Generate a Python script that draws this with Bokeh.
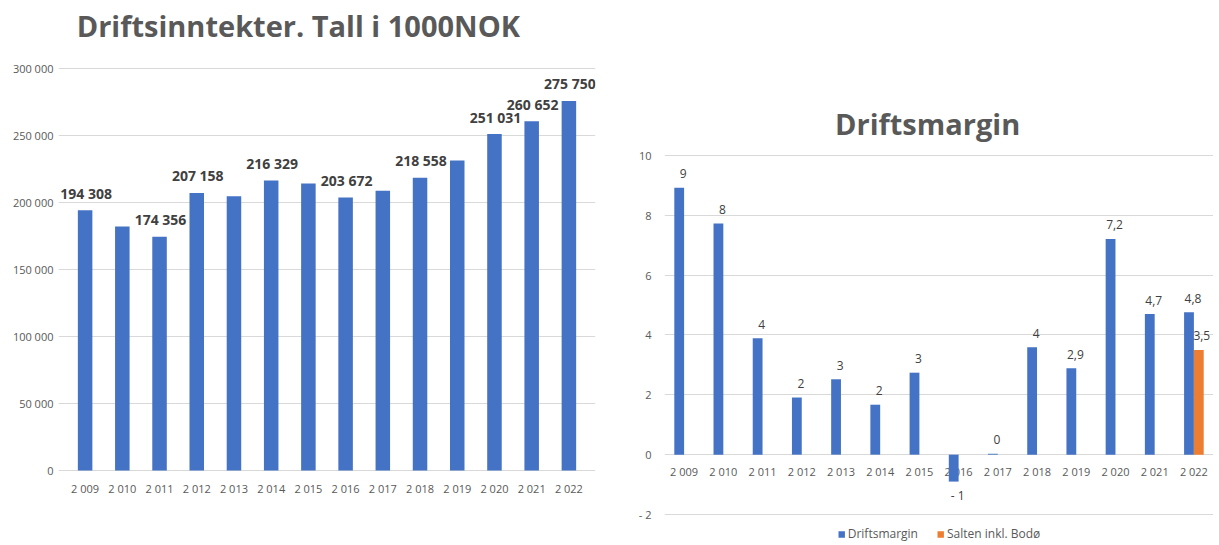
from bokeh.plotting import figure
from bokeh.models import (ColumnDataSource, FixedTicker, Range1d, FactorRange, Legend,
                          LegendItem, Label, LabelSet)
from bokeh.transform import dodge
from bokeh.core.properties import value
from bokeh.layouts import row
from bokeh.embed import file_html
from bokeh.resources import INLINE

# ---------------- data ----------------
years = [2009, 2010, 2011, 2012, 2013, 2014, 2015, 2016, 2017, 2018, 2019, 2020, 2021, 2022]
revenue = [194308, 182000, 174356, 207158, 204750, 216329, 214250, 203672, 208750,
           218558, 231250, 251031, 260652, 275750]
revenue_labelled_years = [2009, 2011, 2012, 2014, 2016, 2018, 2020, 2021, 2022]
revenue_ticks = [0, 50000, 100000, 150000, 200000, 250000, 300000]

margin = [8.92, 7.73, 3.89, 1.91, 2.52, 1.67, 2.74, -0.90, 0.03, 3.59, 2.89, 7.21, 4.70, 4.76]
margin_decimals = [0, 0, 0, 0, 0, 0, 0, 0, 0, 0, 1, 1, 1, 1]
salten_years = [2022]
salten_margin = [3.5]
salten_decimals = [1]
margin_ticks = [-2, 0, 2, 4, 6, 8, 10]

title_left = "Driftsinntekter. Tall i 1000NOK"
title_right = "Driftsmargin"
legend_labels = ["Driftsmargin", "Salten inkl. Bodø"]

# ---------------- style ----------------
BLUE = "#4472C4"
ORANGE = "#ED7D31"
GRID = "#D9D9D9"
AXIS_TXT = "#595959"
LABEL_TXT = "#404040"
FONT = "Open Sans"
FRAME_H = 544          # common frame height (frames in a row are aligned)


def thousands(n):
    return f"{int(n):,}".replace(",", " ")


def excel_num(v, d):
    s = f"{abs(v):.{d}f}".replace(".", ",")
    if v < 0 and float(s.replace(",", ".")) != 0:
        return "- " + s
    return s


factors = [thousands(y) for y in years]


def style(p, ticks, overrides, standoff):
    p.outline_line_color = None
    p.xgrid.grid_line_color = None
    p.ygrid.grid_line_color = GRID
    p.ygrid.ticker = FixedTicker(ticks=ticks)
    p.yaxis.ticker = FixedTicker(ticks=ticks)
    p.yaxis.major_label_overrides = overrides
    p.yaxis.axis_line_color = None
    p.yaxis.major_tick_line_color = None
    p.yaxis.minor_tick_line_color = None
    p.yaxis.major_tick_out = 0
    p.yaxis.major_label_standoff = standoff
    p.yaxis.major_label_text_font = FONT
    p.yaxis.major_label_text_font_size = "11px"
    p.yaxis.major_label_text_color = AXIS_TXT


def add_title(p, text, x, y):
    p.add_layout(Label(x=x, y=y, text=text, text_align="center", text_baseline="middle",
                       text_font=FONT, text_font_size="29px", text_font_style="bold",
                       text_color=AXIS_TXT))


def category_labels(p, source, offset):
    # category labels hang just below the zero line (drawn before the bars)
    p.text(x="x", y=0, text="x", source=source, text_align="center", text_baseline="middle",
           y_offset=offset, text_font=value(FONT), text_font_size="11px",
           text_color=AXIS_TXT)


# ---------------- left chart ----------------
p1 = figure(frame_width=537, frame_height=FRAME_H,
            x_range=FactorRange(*factors, range_padding=0.215, range_padding_units="absolute"),
            y_range=Range1d(-55224, 350746), x_axis_location=None,
            output_backend="svg", toolbar_location=None,
            min_border_left=58, min_border_right=13, min_border_top=0, min_border_bottom=0)
style(p1, revenue_ticks, {t: thousands(t) for t in revenue_ticks}, 5)
add_title(p1, title_left, 6.23, 332090)

src1 = ColumnDataSource(dict(x=factors, top=revenue))
category_labels(p1, src1, 18)
p1.vbar(x="x", top="top", width=0.39, source=src1, fill_color=BLUE, line_color=None)

lab_x = [thousands(y) for y, v in zip(years, revenue) if y in revenue_labelled_years]
lab_y = [v for y, v in zip(years, revenue) if y in revenue_labelled_years]
src1l = ColumnDataSource(dict(x=lab_x, y=lab_y, t=[thousands(v) for v in lab_y]))
p1.add_layout(LabelSet(x="x", y="y", text="t", source=src1l, text_align="center",
                       text_baseline="middle", x_offset=1, y_offset=17,
                       text_font=value(FONT), text_font_size="14px",
                       text_font_style="bold", text_color=LABEL_TXT))

# ---------------- right chart ----------------
p2 = figure(frame_width=549, frame_height=FRAME_H,
            x_range=FactorRange(*factors), y_range=Range1d(-3.003, 15.181),
            x_axis_location=None,
            output_backend="svg", toolbar_location=None,
            min_border_left=56, min_border_right=0, min_border_top=0, min_border_bottom=0)
style(p2, margin_ticks, {t: excel_num(t, 0) for t in margin_ticks}, 13)
add_title(p2, title_right, 6.71, 11.07)

src2 = ColumnDataSource(dict(
    x=factors, top=margin,
    t=[excel_num(v, d) for v, d in zip(margin, margin_decimals)],
    off=[-14 if v >= 0 else 14 for v in margin]))
category_labels(p2, src2, 17)

r_blue = p2.vbar(x=dodge("x", -0.125, range=p2.x_range), top="top", width=0.25,
                 source=src2, fill_color=BLUE, line_color=None)
p2.text(x=dodge("x", -0.125, range=p2.x_range), y="top", text="t", source=src2,
        text_align="center", text_baseline="middle", x_offset=4, y_offset="off",
        text_font=value(FONT), text_font_size="12px", text_color=LABEL_TXT)

src3 = ColumnDataSource(dict(
    x=[thousands(y) for y in salten_years], top=salten_margin,
    t=[excel_num(v, d) for v, d in zip(salten_margin, salten_decimals)],
    off=[-14 if v >= 0 else 14 for v in salten_margin]))
r_orange = p2.vbar(x=dodge("x", 0.125, range=p2.x_range), top="top", width=0.25,
                   source=src3, fill_color=ORANGE, line_color=None)
p2.text(x=dodge("x", 0.125, range=p2.x_range), y="top", text="t", source=src3,
        text_align="center", text_baseline="middle", x_offset=3, y_offset="off",
        text_font=value(FONT), text_font_size="12px", text_color=LABEL_TXT)

legend = Legend(items=[LegendItem(label=legend_labels[0], renderers=[r_blue]),
                       LegendItem(label=legend_labels[1], renderers=[r_orange])],
                orientation="horizontal", location="bottom_center",
                label_text_font=FONT, label_text_font_size="12px", label_text_color=AXIS_TXT,
                glyph_width=8, glyph_height=8, label_standoff=3, spacing=18,
                label_height=16, padding=0, margin=2,
                border_line_color=None, background_fill_alpha=0)
p2.add_layout(legend)

layout = row(p1, p2)
open("out.html", "w").write(file_html(layout, INLINE))
